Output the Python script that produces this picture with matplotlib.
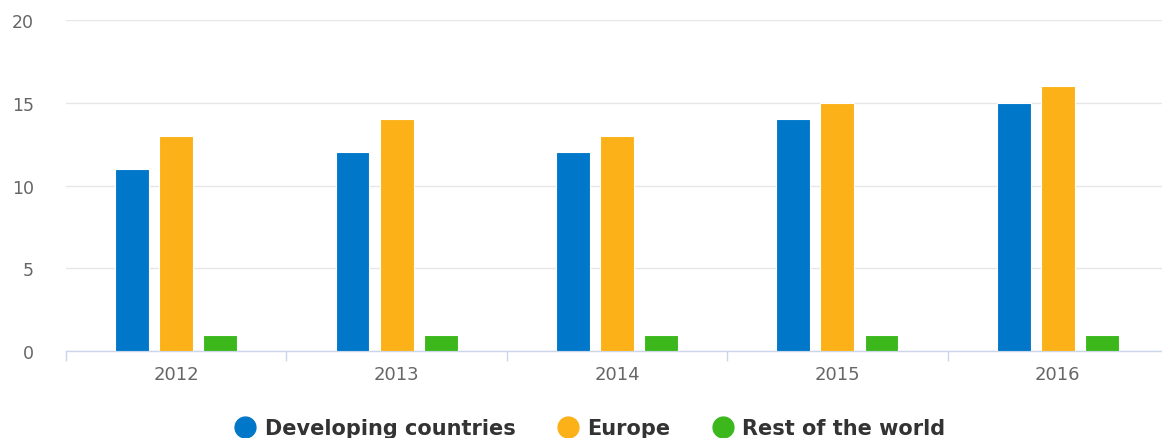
import matplotlib
matplotlib.use("Agg")
import matplotlib.pyplot as plt
from matplotlib.lines import Line2D
import numpy as np

plt.rcParams["font.family"] = ["DejaVu Sans"]

years = ["2012", "2013", "2014", "2015", "2016"]
developing = [11, 12, 12, 14, 15]
europe = [13, 14, 13, 15, 16]
rest = [1, 1, 1, 1, 1]
series_names = ["Developing countries", "Europe", "Rest of the world"]
colors = ["#0077c8", "#fbb117", "#3cb81c"]

W, H = 1162, 439
fig = plt.figure(figsize=(W / 100, H / 100), dpi=100)
left, right = 66, 1168
y0, y20 = 352.3, 20.7
ax = fig.add_axes([left / W, (H - y0) / H, (right - left) / W, (y0 - y20) / H])

x = np.arange(len(years))
width = 0.154
pitch = 0.2
for i, (vals, c) in enumerate(zip([developing, europe, rest], colors)):
    ax.bar(x + (i - 1) * pitch, vals, width=width, color=c, edgecolor="white",
           linewidth=0.8, zorder=3)

ax.set_xlim(-0.5, len(years) - 0.5)
ax.set_ylim(0, 20)
ax.set_yticks([0, 5, 10, 15, 20])
ax.yaxis.grid(True, color="#e6e6e6", linewidth=1)
ax.set_axisbelow(True)
for s in ["top", "right", "left"]:
    ax.spines[s].set_visible(False)
ax.spines["bottom"].set_color("#ccd6eb")
ax.spines["bottom"].set_linewidth(1)
ax.tick_params(axis="y", length=0, pad=23, labelsize=12.5, labelcolor="#666666")
ax.set_xticks(x)
ax.set_xticklabels(years)
ax.tick_params(axis="x", length=0, pad=10, labelsize=13, labelcolor="#666666")
# boundary ticks
ax.set_xticks(np.arange(len(years) + 1) - 0.5, minor=True)
ax.tick_params(axis="x", which="minor", length=7, color="#ccd6eb", width=1)

handles = [Line2D([0], [0], marker="o", linestyle="", markersize=15,
                  markerfacecolor=c, markeredgecolor=c) for c in colors]
leg = fig.legend(handles, series_names, loc="center", bbox_to_anchor=(590 / W, 1 - 429 / H),
                 ncol=3, frameon=False, handletextpad=0.45, columnspacing=2.0,
                 handlelength=1.0, borderpad=0, prop={"weight": "bold", "size": 15})
for t in leg.get_texts():
    t.set_color("#333333")

fig.savefig("out.png", dpi=100)
